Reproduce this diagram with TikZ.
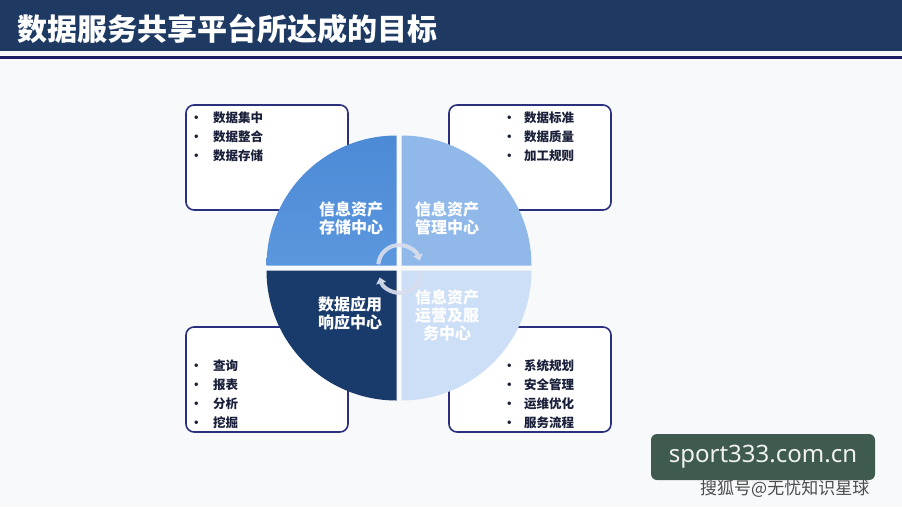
\documentclass[tikz,border=0pt]{standalone}
\usepackage{fontspec}
\setmainfont{Noto Sans CJK SC}
\newfontfamily\markfont{Noto Sans}
\usetikzlibrary{arrows.meta}
\definecolor{PageWhite}{HTML}{F8F9FB}
\definecolor{TitleNavy}{HTML}{1E3A62}
\definecolor{RuleNavy}{HTML}{1B1F62}
\definecolor{BoxNavy}{HTML}{2A2F7E}
\definecolor{ItemInk}{HTML}{1A1F3A}
\definecolor{QuadStore}{HTML}{4D8AD6}
\definecolor{QuadStoreHi}{HTML}{5B97DE}
\definecolor{QuadManage}{HTML}{90B9EA}
\definecolor{QuadApply}{HTML}{183B6B}
\definecolor{QuadServe}{HTML}{CCDFF6}
\definecolor{ArrowMist}{HTML}{D8DDEC}
\definecolor{MarkGreen}{HTML}{3F5A4F}

\begin{document}
\begin{tikzpicture}[x=1pt,y=-1pt,
    gb/.style={draw=BoxNavy,fill=white,line width=1.6pt,rounded corners=8pt,minimum width=162pt,minimum height=105pt,inner sep=0pt},
    it/.style={anchor=west,inner sep=0pt,text=ItemInk,font=\fontsize{12.5}{14}\selectfont\bfseries},
    ql/.style={align=center,text=white,inner sep=0pt,font=\fontsize{16}{18}\selectfont\bfseries},
    ca/.style={-{Triangle[width=10pt,length=6pt]},line width=4pt,color=ArrowMist,opacity=0.92}]
  \useasboundingbox[fill=PageWhite] (0,0) rectangle (902,507);
  % title bar
  \fill[TitleNavy] (0,0) rectangle (902,51);
  \fill[RuleNavy] (0,55.5) rectangle (902,58.5);
  \node[anchor=west,text=white,inner sep=0pt,font=\fontsize{30}{32}\selectfont\bfseries] (title) at (17,29) {数据服务共享平台所达成的目标};
  % goal boxes
  \node[gb] (b1) at (267,157.5) {};
  \node[gb] (b2) at (530,157.5) {};
  \node[gb] (b3) at (267,379.5) {};
  \node[gb] (b4) at (530,379.5) {};
  \foreach \t [count=\i] in {数据集中,数据整合,数据存储}{\node[it] (s\i) at (190,99+19*\i) {\makebox[23pt][l]{•}\t};}
  \foreach \t [count=\i] in {数据标准,数据质量,加工规则}{\node[it] (m\i) at (503,99+19*\i) {\makebox[21pt][l]{•}\t};}
  \foreach \t [count=\i] in {查询,报表,分析,挖掘}{\node[it] (a\i) at (190,347+19*\i) {\makebox[23pt][l]{•}\t};}
  \foreach \t [count=\i] in {系统规划,安全管理,运维优化,服务流程}{\node[it] (v\i) at (503,347+19*\i) {\makebox[21pt][l]{•}\t};}
  % circle quadrants
  \shade[top color=QuadStore,bottom color=QuadStoreHi] (396.5,265.5) -- ++(-130,0) arc[start angle=180,end angle=270,radius=130] -- cycle;
  \fill[QuadManage] (401.5,265.5) -- ++(0,-130) arc[start angle=270,end angle=360,radius=130] -- cycle;
  \fill[QuadServe] (401.5,270.5) -- ++(130,0) arc[start angle=0,end angle=90,radius=130] -- cycle;
  \fill[QuadApply] (396.5,270.5) -- ++(0,130) arc[start angle=90,end angle=180,radius=130] -- cycle;
  \node[ql] (q1) at (351,218.5) {信息资产\\存储中心};
  \node[ql] (q2) at (447,218.5) {信息资产\\管理中心};
  \node[ql] (q3) at (350,313) {数据应用\\响应中心};
  \node[ql] (q4) at (447,315) {信息资产\\运营及服\\务中心};
  % cycle arrows
  \draw[ca] (378.3,264.2) arc[start angle=185,end angle=345,radius=21];
  \draw[ca] (420.9,272.7) arc[start angle=2,end angle=165,radius=21];
  % watermark
  \node[anchor=west,inner sep=0pt,text=black!70,font=\fontsize{17}{19}\selectfont] (sohu) at (700,489) {搜狐号@无忧知识星球};
  \node[fill=MarkGreen,rounded corners=6pt,minimum width=224pt,minimum height=46pt,inner sep=0pt,text=white!92!MarkGreen,font=\markfont\fontsize{24}{26}\selectfont] (mark) at (763,457) {sport333.com.cn};
\end{tikzpicture}
\end{document}
